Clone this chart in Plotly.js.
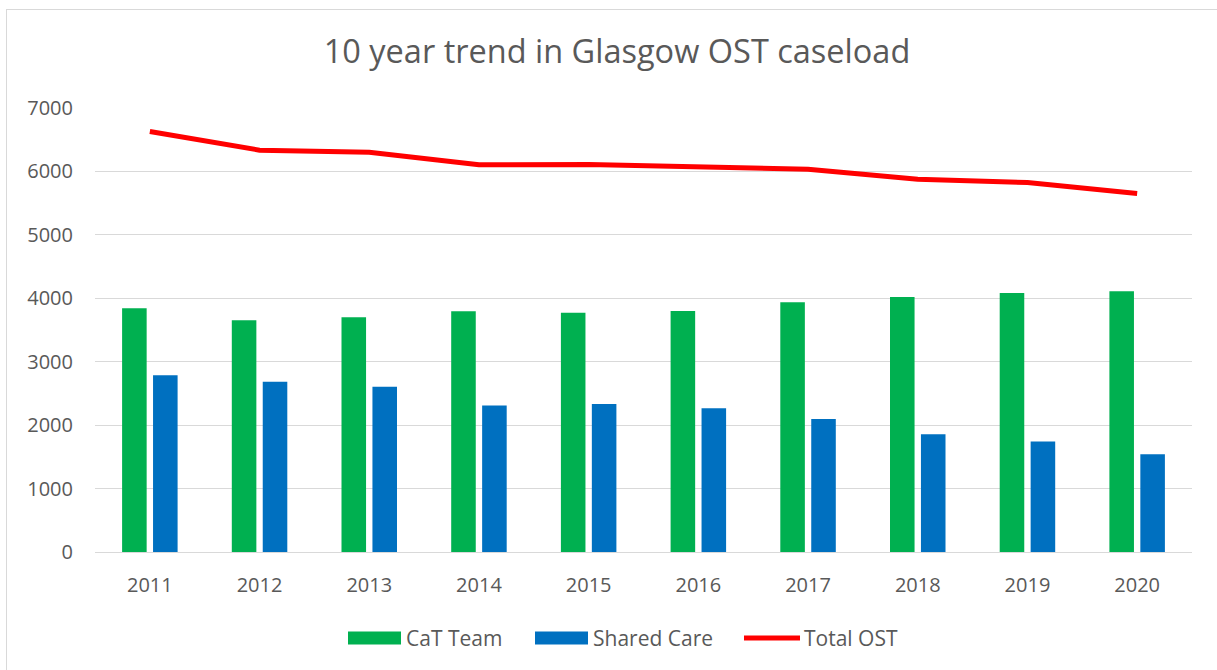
<!DOCTYPE html>
<html>
<head>
<meta charset="utf-8">
<script src="https://cdn.plot.ly/plotly-3.0.1.min.js"></script>
<style>
  html, body { margin: 0; padding: 0; background: #ffffff; }
  #wrap { position: relative; width: 1217px; height: 670px; overflow: hidden; }
  #chart { width: 1217px; height: 670px; }
  #frame { position: absolute; left: 6px; top: 9px; width: 1300px; height: 800px;
           border-left: 1px solid #d9d9d9; border-top: 1px solid #d9d9d9; pointer-events: none; }
</style>
</head>
<body>
<div id="wrap">
  <div id="chart"></div>
  <div id="frame"></div>
</div>
<script>
// ---- data ----
const years = ["2011", "2012", "2013", "2014", "2015", "2016", "2017", "2018", "2019", "2020"];
const catTeam = [3842, 3652, 3700, 3795, 3773, 3800, 3937, 4021, 4084, 4111];
const sharedCare = [2788, 2683, 2604, 2310, 2335, 2267, 2098, 1856, 1741, 1540];
const totalOST = [6630, 6335, 6304, 6105, 6108, 6067, 6035, 5877, 5825, 5651];
const yTicks = [0, 1000, 2000, 3000, 4000, 5000, 6000, 7000];
const seriesNames = ["CaT Team", "Shared Care", "Total OST"];
const chartTitle = "10 year trend in Glasgow OST caseload";

// ---- styles ----
const GREEN = "#00B050", BLUE = "#0070C0", RED = "#FF0000", TEXT = "#595959", GRID = "#d9d9d9";
const FONT = "Open Sans, sans-serif";

const W = 1217, H = 670;
const M = { l: 95, r: 25, t: 108, b: 118 };
const PW = W - M.l - M.r, PH = H - M.t - M.b;
const px2x = p => (p - M.l) / PW;
const py2y = p => (H - M.b - p) / PH;

const traces = [
  { type: "bar", name: seriesNames[0], x: years, y: catTeam, marker: { color: GREEN }, showlegend: false, hoverinfo: "x+y+name" },
  { type: "bar", name: seriesNames[1], x: years, y: sharedCare, marker: { color: BLUE }, showlegend: false, hoverinfo: "x+y+name" },
  { type: "scatter", mode: "lines", name: seriesNames[2], x: years, y: totalOST,
    line: { color: RED, width: 5, shape: "linear" }, showlegend: false, hoverinfo: "x+y+name" }
];

// custom legend (swatches sized like the reference)
const legY = 638;
const legendItems = [
  { kind: "rect", color: GREEN, x0: 348, x1: 401, tx: 404, label: seriesNames[0] },
  { kind: "rect", color: BLUE, x0: 535, x1: 588, tx: 591, label: seriesNames[1] },
  { kind: "line", color: RED, x0: 744, x1: 800, tx: 802, label: seriesNames[2] }
];
const shapes = [];
const annotations = [];
legendItems.forEach(it => {
  if (it.kind === "rect") {
    shapes.push({ type: "rect", xref: "paper", yref: "paper",
      x0: px2x(it.x0), x1: px2x(it.x1), y0: py2y(legY + 6.5), y1: py2y(legY - 6.5),
      fillcolor: it.color, line: { width: 0 } });
  } else {
    shapes.push({ type: "line", xref: "paper", yref: "paper",
      x0: px2x(it.x0), x1: px2x(it.x1), y0: py2y(legY), y1: py2y(legY),
      line: { color: it.color, width: 5 } });
  }
  annotations.push({ xref: "paper", yref: "paper", x: px2x(it.tx), y: py2y(legY),
    xanchor: "left", yanchor: "middle", showarrow: false, text: it.label,
    font: { family: FONT, size: 21, color: TEXT } });
});

const layout = {
  width: W, height: H,
  margin: M,
  paper_bgcolor: "#ffffff", plot_bgcolor: "#ffffff",
  title: { text: chartTitle, x: 617 / W, xref: "container", xanchor: "center",
           y: 1 - 52 / H, yref: "container", yanchor: "middle",
           font: { family: FONT, size: 32.5, color: TEXT } },
  barmode: "group", bargap: 0.436, bargroupgap: 0.206,
  showlegend: false,
  xaxis: { type: "category", showgrid: false, showline: false, zeroline: false, ticks: "",
           tickfont: { family: FONT, size: 20, color: TEXT }, ticklabelstandoff: 19, fixedrange: true },
  yaxis: { range: [0, 7000], tickvals: yTicks, ticktext: yTicks.map(String), showgrid: true,
           gridcolor: GRID, gridwidth: 1, zeroline: true, zerolinecolor: GRID, zerolinewidth: 1,
           showline: false, ticks: "", tickfont: { family: FONT, size: 20, color: TEXT },
           ticklabelstandoff: 21, fixedrange: true },
  shapes: shapes,
  annotations: annotations,
  font: { family: FONT, color: TEXT }
};

Plotly.newPlot("chart", traces, layout, { displayModeBar: false, staticPlot: true });
</script>
</body>
</html>
